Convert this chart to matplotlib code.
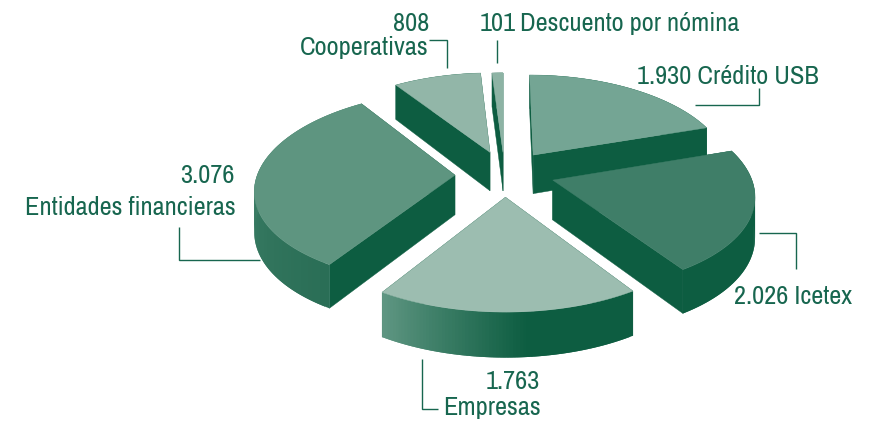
import numpy as np
import matplotlib
matplotlib.use("Agg")
import matplotlib.pyplot as plt
from matplotlib.colors import to_rgb
from matplotlib.patches import Polygon

# data, clockwise from the top of the pie
labels = ["Crédito USB", "Icetex", "Empresas", "Entidades financieras", "Cooperativas", "Descuento por nómina"]
values = [1930, 2026, 1763, 3076, 808, 101]

# style per slice
top_colors = ["#74a594", "#3f7e68", "#9cbdb0", "#5e9580", "#92b6a8", "#8db3a4"]
arc_colors = [("#0d5d41", "#0d5d41"), ("#0d5d41", "#0d5d41"), ("#0d5d41", "#5f9682"),
              ("#2a6e56", "#4a8a72"), ("#0d5d41", "#0d5d41"), ("#0d5d41", "#0d5d41")]
arc_hold = [0, 0, 0.43, 0, 0, 0]
explode = [(0.157, -0.30), (0.25, -0.03), (0.012, 0.145), (-0.243, -0.082), (-0.068, -0.33), (0.0, -0.33)]
draw_order = [5, 4, 0, 3, 1, 2]

SIDE = "#0d5d41"
TEXT = "#17664f"
CX, CY = 503, 183
RX, RY = 200, 96.6
PX, PY = 0.14, 0.125
DEPTH = 40


def project(X, Y, z=0.0):
    """ground plane to pixel position, with a bit of perspective"""
    x = CX + RX * X / (1 - PX * Y)
    y = CY + RY * Y / (1 - PY * Y) + z * DEPTH * (1 + 0.12 * Y)
    return x, y


def draw_slice(ax, a0, a1, off, top, arc, hold):
    th = np.radians(np.linspace(a0, a1, 80))
    X = off[0] + np.sin(th)
    Y = off[1] - np.cos(th)
    xt, yt = project(X, Y)
    xb, yb = project(X, Y, 1)
    ax0, ay0 = project(off[0], off[1])
    bx0, by0 = project(off[0], off[1], 1)

    # cut faces
    for i in (0, -1):
        ax.add_patch(Polygon([(ax0, ay0), (xt[i], yt[i]), (xb[i], yb[i]), (bx0, by0)], fc=SIDE, ec=SIDE, lw=0.3))

    # outer wall, colour runs along the arc. quads overlap the next one so no seams show
    c0, c1 = np.array(to_rgb(arc[0])), np.array(to_rgb(arc[1]))
    n = len(th)
    for i in range(n - 1):
        j = min(i + 2, n - 1)
        t = np.clip((i / (n - 2) - hold) / (1 - hold), 0, 1)
        quad = [(xt[i], yt[i]), (xt[j], yt[j]), (xb[j], yb[j]), (xb[i], yb[i])]
        ax.add_patch(Polygon(quad, fc=c0 + (c1 - c0) * t, ec="none"))

    ax.add_patch(Polygon(np.r_[[(ax0, ay0)], np.c_[xt, yt]], fc=top, ec=top, lw=0.3))


def leader(ax, xs, ys):
    ax.plot(xs, ys, color=TEXT, lw=1.0, solid_joinstyle="miter", solid_capstyle="butt")


def fmt(v):
    return f"{v:,}".replace(",", ".")


def main():
    plt.rcParams["font.family"] = ["Archivo Narrow", "Liberation Sans", "DejaVu Sans"]
    fig = plt.figure(figsize=(8.71, 4.23), dpi=100)
    ax = fig.add_axes([0, 0, 1, 1])
    ax.set_xlim(0, 871)
    ax.set_ylim(423, 0)
    ax.axis("off")

    angles = np.r_[0, np.cumsum(values)] / sum(values) * 360
    for i in draw_order:
        draw_slice(ax, angles[i], angles[i + 1], explode[i], top_colors[i], arc_colors[i], arc_hold[i])

    leader(ax, [429, 447, 447], [40, 40, 68])
    leader(ax, [497, 497], [40, 63])
    leader(ax, [695, 759, 759], [105, 105, 88])
    leader(ax, [179, 179, 260], [227, 260, 260])
    leader(ax, [759, 796, 796], [233, 233, 269])
    leader(ax, [422, 422, 438], [359, 409, 409])

    kw = dict(color=TEXT, fontsize=19, va="baseline")
    ax.text(734, 304, f"{fmt(values[1])} {labels[1]}", ha="left", **kw)
    ax.text(637, 84, f"{fmt(values[0])} {labels[0]}", ha="left", **kw)
    ax.text(540, 389, fmt(values[2]), ha="right", **kw)
    ax.text(541, 415, labels[2], ha="right", **kw)
    ax.text(235, 183, fmt(values[3]), ha="right", **kw)
    ax.text(236, 215, labels[3], ha="right", **kw)
    ax.text(429, 31, fmt(values[4]), ha="right", **kw)
    ax.text(429, 55, labels[4], ha="right", **kw)
    ax.text(516, 31, fmt(values[5]), ha="right", **kw)
    ax.text(520, 31, labels[5], ha="left", **kw)

    fig.savefig("out.png", dpi=100)


if __name__ == "__main__":
    main()
